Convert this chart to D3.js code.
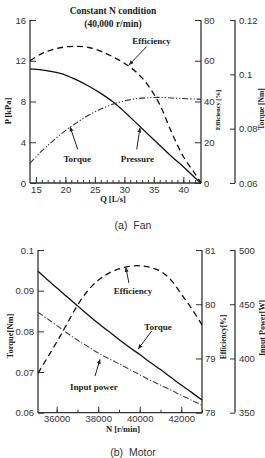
<!DOCTYPE html>
<html><head><meta charset="utf-8">
<script src="https://cdn.jsdelivr.net/npm/d3@7"></script>
<style>
html,body{margin:0;padding:0;background:#fff;}
svg{display:block;}
.tick text{font-family:"Liberation Sans",Arial,sans-serif;font-size:9.5px;fill:#333;}
.lab{font-family:"Liberation Serif","Times New Roman",serif;font-weight:bold;fill:#222;}
</style>
</head><body>
<script>
// ---------- (a) Fan data ----------
const fanQ          = [14, 16, 18, 20, 22, 24, 26, 28, 30, 32, 34, 36, 38, 40, 42, 43];
const fanPressure   = [11.2, 11.1, 10.9, 10.6, 10.1, 9.5, 8.8, 8.0, 7.0, 5.9, 4.8, 3.7, 2.6, 1.6, 0.5, 0];
const fanEfficiency = [60, 63.5, 65.6, 66.8, 67.1, 66.5, 64.7, 62, 58.8, 54.5, 48, 38.5, 25, 13, 4.5, 0];
const fanTorque     = [0.0673, 0.0718, 0.0757, 0.0793, 0.0823, 0.0850, 0.0872, 0.0890, 0.0902, 0.0910, 0.0914, 0.0915, 0.0913, 0.0911, 0.0909, 0.0908];
const fanQTicks     = [15, 20, 25, 30, 35, 40];
const fanPTicks     = [0, 4, 8, 12, 16];
const fanEffTicks   = [0, 20, 40, 60, 80];
const fanTorqueTicks= [0.06, 0.08, 0.1, 0.12];

// ---------- (b) Motor data ----------
const motN          = [35100, 36000, 36500, 37000, 37500, 38000, 38500, 39000, 39500, 40000, 40500, 41000, 41500, 42000, 42500, 43000];
const motTorque     = [0.0948, 0.0907, 0.0885, 0.0863, 0.0841, 0.0820, 0.0800, 0.0780, 0.0761, 0.0743, 0.0724, 0.0706, 0.0687, 0.0668, 0.0650, 0.0631];
const motEfficiency = [78.73, 79.30, 79.64, 79.98, 80.25, 80.44, 80.57, 80.65, 80.70, 80.71, 80.68, 80.61, 80.45, 80.19, 79.92, 79.62];
const motPower      = [442.6, 430.5, 423.5, 417, 411, 405, 400, 395, 390, 385, 380, 375.5, 371, 366, 361.5, 357];
const motNTicks     = [36000, 38000, 40000, 42000];
const motTTicks     = [0.06, 0.07, 0.08, 0.09, 0.1];
const motEffTicks   = [78, 79, 80, 81];
const motPowTicks   = [350, 400, 450, 500];

const W = 265, H = 458;
const svg = d3.select("body").append("svg").attr("width", W).attr("height", H);

const defs = svg.append("defs");
defs.append("marker").attr("id","arr").attr("viewBox","0 0 10 10").attr("refX",9).attr("refY",5)
  .attr("markerWidth",5).attr("markerHeight",5).attr("orient","auto")
  .append("path").attr("d","M0,1 L10,5 L0,9 Z").attr("fill","#222");

function drawPanel(cfg){
  const g = svg.append("g");
  const x = cfg.x, yL = cfg.yL, yR = cfg.yR, yR2 = cfg.yR2;
  const [x0, x1] = x.range();
  const [yb, yt] = yL.range();

  // bottom axis (ticks inward)
  const minor = g.append("g").attr("transform",`translate(0,${yb})`)
    .call(d3.axisTop(x).tickValues(cfg.minorTicks).tickSize(3).tickFormat(""));
  minor.select(".domain").remove();
  const bx = g.append("g").attr("transform",`translate(0,${yb})`)
    .call(d3.axisTop(x).tickValues(cfg.xTicks).tickSize(6).tickFormat(cfg.xFmt));
  bx.selectAll(".tick text").attr("y", 3).attr("dy","0.71em");
  bx.select(".domain").attr("d",`M${x0},0H${x1}`);

  // left axis (ticks inward)
  const la = g.append("g").attr("transform",`translate(${x0},0)`)
    .call(d3.axisRight(yL).tickValues(cfg.yLTicks).tickSize(6).tickFormat(cfg.yLFmt));
  la.selectAll(".tick text").attr("x",-4).attr("text-anchor","end");
  la.select(".domain").attr("d",`M0,${yb}V${yt}`);

  // right axis 1 (ticks inward)
  const ra = g.append("g").attr("transform",`translate(${x1},0)`)
    .call(d3.axisLeft(yR).tickValues(cfg.yRTicks).tickSize(6).tickFormat(cfg.yRFmt));
  ra.selectAll(".tick text").attr("x",3).attr("text-anchor","start");
  ra.select(".domain").attr("d",`M0,${yb}V${yt}`);

  // right axis 2 (separate)
  const ra2 = g.append("g").attr("transform",`translate(${cfg.x2pos},0)`)
    .call(d3.axisLeft(yR2).tickValues(cfg.yR2Ticks).tickSize(5).tickFormat(cfg.yR2Fmt));
  ra2.selectAll(".tick text").attr("x",4).attr("text-anchor","start");
  ra2.select(".domain").attr("d",`M0,${yb}V${yt}`);

  g.selectAll(".domain").attr("stroke","#333").attr("stroke-width",1.3);
  g.selectAll(".tick line").attr("stroke","#333").attr("stroke-width",1);

  // series
  cfg.series.forEach(s=>{
    const line = d3.line().x((d,i)=>x(cfg.xs[i])).y(d=>s.scale(d)).curve(d3.curveCatmullRom.alpha(0.5));
    g.append("path").attr("d", line(s.values)).attr("fill","none")
      .attr("stroke", s.color||"#111").attr("stroke-width", s.width||1.3)
      .attr("stroke-dasharray", s.dash||null);
  });

  // annotations
  cfg.notes.forEach(n=>{
    g.append("text").attr("class","lab").attr("x",x(n.tx)).attr("y",yL(n.ty))
      .attr("text-anchor","middle").attr("dominant-baseline","central")
      .attr("font-size",9).text(n.text);
    g.append("line").attr("x1",x(n.ax1)).attr("y1",yL(n.ay1)).attr("x2",x(n.ax2)).attr("y2",yL(n.ay2))
      .attr("stroke","#222").attr("stroke-width",1).attr("marker-end","url(#arr)");
  });
}

function vlabel(xp, yp, txt, size){
  svg.append("text").attr("class","lab").attr("transform",`translate(${xp},${yp}) rotate(-90)`)
    .attr("text-anchor","middle").attr("dominant-baseline","central").attr("font-size",size).text(txt);
}
function hlabel(xp, yp, txt, size){
  svg.append("text").attr("class","lab").attr("x",xp).attr("y",yp)
    .attr("text-anchor","middle").attr("font-size",size).text(txt);
}

// ----- Panel (a) -----
const ax = d3.scaleLinear().domain([14,43]).range([30,201]);
const ayP = d3.scaleLinear().domain([0,16]).range([183,20]);
const ayE = d3.scaleLinear().domain([0,80]).range([183,20]);
const ayT = d3.scaleLinear().domain([0.06,0.12]).range([183,20]);
drawPanel({
  x: ax, yL: ayP, yR: ayE, yR2: ayT, x2pos: 235,
  xs: fanQ,
  xTicks: fanQTicks, minorTicks: d3.range(15,43,1), xFmt: d3.format("d"),
  yLTicks: fanPTicks, yLFmt: d3.format("d"),
  yRTicks: fanEffTicks, yRFmt: d3.format("d"),
  yR2Ticks: fanTorqueTicks, yR2Fmt: d=>String(+d.toFixed(2)),
  series: [
    {values: fanPressure, scale: ayP, width:1.3},
    {values: fanEfficiency, scale: ayE, dash:"6,4", width:1.3},
    {values: fanTorque, scale: ayT, dash:"6,2,1.2,2,1.2,2", width:1.1, color:"#333"}
  ],
  notes: [
    {text:"Efficiency", tx:34.6, ty:13.95, ax1:33.8, ay1:13.4, ax2:30.8, ay2:11.6},
    {text:"Torque", tx:22.0, ty:2.4, ax1:22.1, ay1:3.3, ax2:20.8, ay2:5.5},
    {text:"Pressure", tx:32.2, ty:2.4, ax1:32.1, ay1:3.3, ax2:32.65, ay2:5.4}
  ]
});
hlabel(113, 13.5, "Constant N condition", 9.5);
hlabel(113, 26.5, "(40,000  r/min)", 9.5);
hlabel(113, 202, "Q [L/s]", 8.5);
vlabel(8, 111, "P [kPa]", 8.5);
vlabel(217, 110, "Efficiency [%]", 6.5);
vlabel(261, 109, "Torque [Nm]", 7.5);
svg.append("text").attr("x",133).attr("y",229).attr("text-anchor","middle")
  .attr("font-family","'Liberation Sans',Arial,sans-serif").attr("font-size",10.5).attr("fill","#333")
  .style("white-space","pre").text("(a)  Fan");

// ----- Panel (b) -----
const bx = d3.scaleLinear().domain([35100,43000]).range([38,202]);
const byT = d3.scaleLinear().domain([0.06,0.1]).range([412.7,250]);
const byE = d3.scaleLinear().domain([78,81]).range([412.7,250]);
const byW = d3.scaleLinear().domain([350,500]).range([412.7,250]);
drawPanel({
  x: bx, yL: byT, yR: byE, yR2: byW, x2pos: 235,
  xs: motN,
  xTicks: motNTicks, minorTicks: d3.range(36000,43001,1000), xFmt: d3.format("d"),
  yLTicks: motTTicks, yLFmt: d=>String(+d.toFixed(2)),
  yRTicks: motEffTicks, yRFmt: d3.format("d"),
  yR2Ticks: motPowTicks, yR2Fmt: d3.format("d"),
  series: [
    {values: motTorque, scale: byT, width:1.3},
    {values: motEfficiency, scale: byE, dash:"6,4", width:1.3},
    {values: motPower, scale: byW, dash:"6,2,1.2,2", width:1.1, color:"#444"}
  ],
  notes: [
    {text:"Efficiency", tx:39676, ty:0.0898, ax1:39480, ay1:0.0919, ax2:39330, ay2:0.0957},
    {text:"Torque", tx:40880, ty:0.0811, ax1:40577, ay1:0.0801, ax2:39931, ay2:0.0757},
    {text:"Input power", tx:37797, ty:0.0664, ax1:37846, ay1:0.0690, ax2:38086, ay2:0.0731}
  ]
});
hlabel(123, 432, "N [r/min]", 8.5);
vlabel(10, 336, "Torque[Nm]", 8.5);
vlabel(223, 337, "Efficiency[%]", 7.5);
vlabel(262, 328, "Input Power[W]", 8);
svg.append("text").attr("x",133).attr("y",456).attr("text-anchor","middle")
  .attr("font-family","'Liberation Sans',Arial,sans-serif").attr("font-size",10.5).attr("fill","#333")
  .style("white-space","pre").text("(b)  Motor");
</script>
</body></html>
